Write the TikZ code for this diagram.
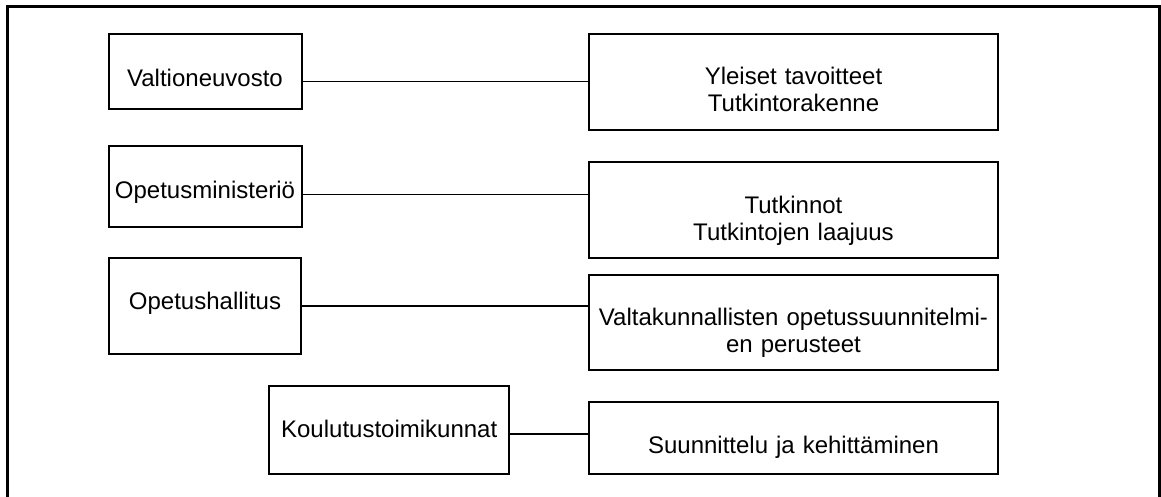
\documentclass[tikz,border=0pt]{standalone}
\usepackage{fontspec}
\setmainfont{Liberation Sans}
\begin{document}
\begin{tikzpicture}[x=1pt,y=-1pt,
  box/.style={draw=black, line width=2pt, rectangle, inner sep=0pt, minimum width=#1},
  lbl/.style={anchor=base, inner sep=0pt, font=\fontsize{24}{27}\selectfont},
  mlbl/.style={anchor=base, inner sep=0pt, text width=440pt, align=center, font=\fontsize{24}{27}\selectfont},
  conn/.style={draw=black, line width=1.6pt},
  frame/.style={draw=black, line width=3pt}]
\useasboundingbox (0,0) rectangle (1161,497);
% frame (bottom edge lies outside the picture)
\draw[frame] (7.8,500) -- (7.8,6.7) -- (1159.8,6.7) -- (1159.8,500);
% left boxes
\node[box=192.5pt, minimum height=75pt] (L1) at (205.25,71.5) {};
\node[box=192.5pt, minimum height=80.5pt] (L2) at (205.25,186.25) {};
\node[box=192.2pt, minimum height=96pt] (L3) at (205.1,306.2) {};
\node[box=240pt, minimum height=88pt] (L4) at (389.2,430.2) {};
% right boxes
\node[box=408.4pt, minimum height=96.2pt] (R1) at (793.5,82.4) {};
\node[box=408.4pt, minimum height=95pt] (R2) at (793.5,210) {};
\node[box=408.4pt, minimum height=95pt] (R3) at (793.5,322) {};
\node[box=408.4pt, minimum height=72pt] (R4) at (793.5,438.2) {};
% texts
\node[lbl] (tL1) at (205,87) {Valtioneuvosto};
\node[lbl] (tL2) at (205,198) {Opetusministeriö};
\node[lbl] (tL3) at (205,309) {Opetushallitus};
\node[lbl] (tL4) at (389.2,437) {Koulutustoimikunnat};
\node[mlbl] (tR1) at (793.5,85) {Yleiset tavoitteet\\Tutkintorakenne};
\node[mlbl] (tR2) at (793.5,213) {Tutkinnot\\Tutkintojen laajuus};
\node[mlbl] (tR3) at (793.5,325) {Valtakunnallisten opetussuunnitelmi-\\en perusteet};
\node[mlbl] (tR4) at (793.5,453) {Suunnittelu ja kehittäminen};
% connector levels
\coordinate (c1) at (0,81.5);
\coordinate (c2) at (0,194.5);
\coordinate (c3) at (0,306.2);
\coordinate (c4) at (0,434.2);
\draw[conn] (L1.east |- c1) -- (R1.west |- c1);
\draw[conn] (L2.east |- c2) -- (R2.west |- c2);
\draw[conn] (L3.east |- c3) -- (R3.west |- c3);
\draw[conn] (L4.east |- c4) -- (R4.west |- c4);
\end{tikzpicture}
\end{document}
